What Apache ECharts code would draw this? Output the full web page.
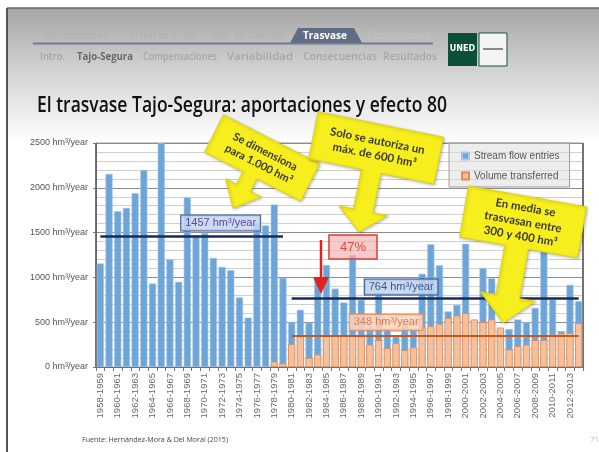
<!DOCTYPE html>
<html><head><meta charset="utf-8">
<script src="https://cdn.jsdelivr.net/npm/echarts@6/dist/echarts.min.js"></script>
<style>html,body{margin:0;padding:0;background:#fff}#c{width:599px;height:452px}</style>
</head><body><div id="c"></div>
<script>
const categories = ['1958-1959','1959-1960','1960-1961','1961-1962','1962-1963','1963-1964','1964-1965','1965-1966','1966-1967','1967-1968','1968-1969','1969-1970','1970-1971','1971-1972','1972-1973','1973-1974','1974-1975','1975-1976','1976-1977','1977-1978','1978-1979','1979-1980','1980-1981','1981-1982','1982-1983','1983-1984','1984-1985','1985-1986','1986-1987','1987-1988','1988-1989','1989-1990','1990-1991','1991-1992','1992-1993','1993-1994','1994-1995','1995-1996','1996-1997','1997-1998','1998-1999','1999-2000','2000-2001','2001-2002','2002-2003','2003-2004','2004-2005','2005-2006','2006-2007','2007-2008','2008-2009','2009-2010','2010-2011','2011-2012','2012-2013','2013-2014'];
const streamFlow = [1155,2155,1739,1776,1939,2200,932,2497,1202,951,1894,1470,1495,1217,1117,1080,777,551,1600,1580,1813,995,
  505,638,495,990,1138,875,720,1250,750,450,830,420,340,480,420,1040,1370,1135,620,694,1375,527,1105,990,420,424,530,500,660,1290,755,400,917,735];
const transferred = [null,null,null,null,null,null,null,null,null,null,null,null,null,null,null,null,null,null,null,null,60,40,
  255,340,100,139,345,345,345,345,343,250,300,210,265,187,220,440,455,480,546,575,600,530,500,530,440,195,231,250,300,300,361,375,380,490];
const seriesNames = ['Stream flow entries','Volume transferred'];
const meanBefore = 1457;
const meanAfter = 764;
const meanTransfer = 348;
const pctText = '47%';
const yTickSuffix = ' hm³/year';
const navTop = ['Introducción','1ª mitad s. XX','Mar de Castilla','Trasvase','Conclusiones'];
const navSub = ['Intro.','Tajo-Segura','Compensaciones','Variabilidad','Consecuencias','Resultados'];
const titleText = 'El trasvase Tajo-Segura: aportaciones y efecto 80';
const sourceText = 'Fuente: Hernández-Mora & Del Moral (2015)';
const callout1 = 'Se dimensiona\npara 1.000 hm³';
const callout2 = 'Solo se autoriza un\nmáx. de 600 hm³';
const callout3 = 'En media se\ntrasvasan entre\n300 y 400 hm³';

const mctx = document.createElement('canvas').getContext('2d');
function fitText(text, x0, x1, y, font, fill, z){
  mctx.font = font;
  const w = mctx.measureText(text).width;
  return {type:'text', x:x0, y:y, scaleX:(x1-x0)/w, z:z||1, style:{text:text, x:0, y:0, fill:fill, font:font, verticalAlign:'middle'}};
}
function calloutShape(W,H,s,hb,hw,t,ax){
  return [[-W,-H],[W,-H],[W,H],[ax+s,H],[ax+s,hb],[ax+hw,hb],[ax,t],[ax-hw,hb],[ax-s,hb],[ax-s,H],[-W,H]];
}
function callout(cx,cy,deg,pts,text,fs,ty){
  return {type:'group', x:cx, y:cy, rotation:-deg*Math.PI/180, z:100, children:[
    {type:'polygon', z:100, shape:{points:pts}, style:{fill:'#f7ee1d', stroke:'#d9d020', lineWidth:0.8, shadowBlur:3, shadowColor:'rgba(0,0,0,0.25)', shadowOffsetX:1, shadowOffsetY:1}},
    {type:'text', z:101, x:0, y:ty||0, style:{text:text, align:'center', verticalAlign:'middle', fill:'#3b3a28', font:'700 '+fs+'px Lato, sans-serif', lineHeight:fs+3}}
  ]};
}

const chart = echarts.init(document.getElementById('c'), null, {renderer:'canvas'});
const narrow = '"Liberation Sans Narrow","Liberation Sans",Arial,sans-serif';
const navFont = '600 10px "Open Sans",sans-serif';
const navBold = '700 10px "Open Sans",sans-serif';

const graphics = [
  {type:'rect', shape:{x:8,y:8,width:600,height:135}, style:{fill:new echarts.graphic.LinearGradient(0,0,0,1,[{offset:0,color:'#a6a6a6'},{offset:0.55,color:'#dadada'},{offset:1,color:'#ffffff'}])}, z:-10},
  {type:'line', shape:{x1:7,y1:8,x2:7,y2:452}, style:{stroke:'#555',lineWidth:2}, z:-5},
  {type:'line', shape:{x1:7,y1:8,x2:599,y2:8}, style:{stroke:'#666',lineWidth:1.5}, z:-5},
  // nav
  {type:'polygon', shape:{points:[[290,43],[298,28],[354,28],[362,43]]}, style:{fill:'#5f6d82'}},
  {type:'line', shape:{x1:33,y1:43.5,x2:433,y2:43.5}, style:{stroke:'#6f7d92',lineWidth:2}},
  fitText(navTop[0],43,110,36,navFont,'#b2b2b2'),
  fitText(navTop[1],128,195,36,navFont,'#b2b2b2'),
  fitText(navTop[2],212,283,36,navFont,'#b2b2b2'),
  fitText(navTop[3],303,347,36,navBold,'#ffffff',3),
  fitText(navTop[4],367,430,36,navFont,'#c2c2c2'),
  fitText(navSub[0],40,65,57,navFont,'#a6a6a6'),
  fitText(navSub[1],77,133,57,navBold,'#686868'),
  fitText(navSub[2],143,217,57,navFont,'#a6a6a6'),
  fitText(navSub[3],227,293,57,navFont,'#a6a6a6'),
  fitText(navSub[4],303,377,57,navFont,'#a6a6a6'),
  fitText(navSub[5],383,437,57,navFont,'#a6a6a6'),
  // logo
  {type:'rect', shape:{x:448,y:33,width:29,height:33}, style:{fill:'#0e4f3a'}},
  {type:'text', x:462.5, y:49, style:{text:'UNED', fill:'#fff', font:'700 8px "DejaVu Sans",sans-serif', align:'center', verticalAlign:'middle'}},
  {type:'rect', shape:{x:479,y:33,width:28,height:33}, style:{fill:'#f4f4f4', stroke:'#1d4f3c', lineWidth:1}},
  {type:'rect', shape:{x:483,y:48,width:20,height:2}, style:{fill:'#888'}},
  // title
  fitText(titleText,37,447,106,'600 21px "Open Sans",sans-serif','#111'),
  // 47% box
  {type:'rect', shape:{x:329,y:235,width:48,height:24}, style:{fill:'rgba(245,175,175,0.65)', stroke:'#e03a3a', lineWidth:1.5}, z:50},
  {type:'text', x:353, y:247, style:{text:pctText, fill:'#e5483f', font:'13px '+narrow, align:'center', verticalAlign:'middle'}, z:51},
  // red arrow
  {type:'line', shape:{x1:321,y1:240,x2:321,y2:278}, style:{stroke:'#e2231a', lineWidth:2.5}, z:50},
  {type:'polygon', shape:{points:[[313,277],[329,277],[321,294]]}, style:{fill:'#e2231a'}, z:50},
  // callouts
  callout(262,158,27,calloutShape(54,21,8,35,20,58,-3),callout1,11),
  callout(376,148,11.5,calloutShape(64,24,10,64,25,86,0),callout2,11.5),
  callout(523,222,10,calloutShape(60,26,12,76,28,103,-2),callout3,11.5),
  // source
  fitText(sourceText,82,228,440,'7.5px "Open Sans",sans-serif','#444'),
  {type:'text', x:590, y:440, style:{text:'71', fill:'#bbb', font:'8px "Open Sans",sans-serif', verticalAlign:'middle'}}
];

const option = {
  animation:false,
  backgroundColor:'#ffffff',
  grid:{left:96, right:16, top:143, bottom:85, show:true, borderColor:'#9a9a9a', borderWidth:1, backgroundColor:'transparent'},
  legend:{
    data:seriesNames, orient:'vertical', left:449, top:143, width:119, height:44,
    backgroundColor:'rgba(222,222,222,0.55)', borderColor:'#9a9a9a', borderWidth:1,
    padding:[8,10,6,12], itemGap:10, itemWidth:7, itemHeight:7, icon:'rect',
    textStyle:{fontSize:10, color:'#555', fontFamily:narrow}
  },
  xAxis:{
    type:'category', data:categories, boundaryGap:true,
    axisLine:{lineStyle:{color:'#666', width:1}},
    axisTick:{show:true, interval:0, length:4, lineStyle:{color:'#777'}},
    axisLabel:{rotate:90, interval:1, fontSize:9.5, color:'#6a6a6a', margin:6, fontFamily:'"Liberation Sans",Arial,sans-serif'},
    splitLine:{show:true, interval:function(i){return i===22;}, lineStyle:{color:'#555', width:1.5}}
  },
  yAxis:{
    type:'value', min:0, max:2500, interval:500,
    axisLine:{show:true, lineStyle:{color:'#666'}},
    axisTick:{show:true, length:3, lineStyle:{color:'#777'}},
    axisLabel:{formatter:function(v){return v+yTickSuffix;}, fontSize:9, color:'#555', margin:8, fontFamily:narrow},
    splitLine:{show:true, lineStyle:{color:'#8c8c8c', width:1}},
    minorTick:{show:false, splitNumber:5},
    minorSplitLine:{show:true, lineStyle:{color:'#cfcfcf', width:1}}
  },
  series:[
    {name:seriesNames[0], type:'bar', data:streamFlow, barCategoryGap:'18%',
     itemStyle:{color:'#6ea5d9', borderColor:'#a6c7e8', borderWidth:0.6},
     markLine:{symbol:'none', silent:true, lineStyle:{color:'#1b2a5e', width:2.5, type:'solid'},
       data:[
        [{coord:[categories[0],meanBefore], label:{show:true, position:'insideMiddleTop', formatter:meanBefore+yTickSuffix, distance:6, offset:[29,0],
           color:'#4f4f9c', fontSize:11, fontFamily:narrow, backgroundColor:'rgba(200,213,240,0.85)', borderColor:'#41599a', borderWidth:1, padding:[2,4,2,4]}},
         {coord:[categories[21],meanBefore]}],
        [{coord:[categories[22],meanAfter], label:{show:true, position:'insideMiddleTop', formatter:meanAfter+yTickSuffix, distance:4, offset:[-34,0],
           color:'#3d5894', fontSize:11, fontFamily:narrow, backgroundColor:'rgba(190,210,236,0.85)', borderColor:'#2f4f8f', borderWidth:1, padding:[2,4,2,4]}},
         {coord:[categories[55],meanAfter]}]
       ]}
    },
    {name:seriesNames[1], type:'bar', data:transferred, barGap:'-100%', barCategoryGap:'18%',
     itemStyle:{color:'#f7c09a', borderColor:'#e48a52', borderWidth:0.8},
     markLine:{symbol:'none', silent:true, lineStyle:{color:'#c9581c', width:2, type:'solid'},
       data:[
        [{coord:[categories[22],meanTransfer], label:{show:true, position:'insideMiddleTop', formatter:meanTransfer+yTickSuffix, distance:6, offset:[-49,0],
           color:'#e27a4e', fontSize:11, fontFamily:narrow, backgroundColor:'rgba(250,212,188,0.85)', borderColor:'#e58b5c', borderWidth:1, padding:[2,4,2,4]}},
         {coord:[categories[55],meanTransfer]}]
       ]}
    }
  ],
  graphic:graphics
};
chart.setOption(option);
</script></body></html>
